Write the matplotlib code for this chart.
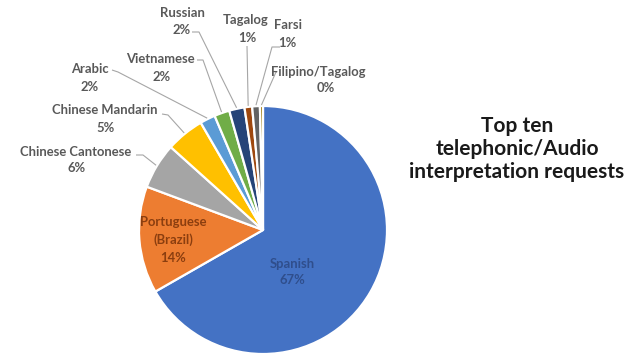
import numpy as np
import matplotlib
matplotlib.use("Agg")
import matplotlib.pyplot as plt

# Share of telephonic/audio interpretation requests by language (%)
languages = ["Spanish", "Portuguese\n(Brazil)", "Chinese Cantonese", "Chinese Mandarin",
             "Arabic", "Vietnamese", "Russian", "Tagalog", "Farsi", "Filipino/Tagalog"]
shares = [67, 14, 6, 5, 2, 2, 2, 1, 1, 0.4]
colors = ["#4472C4", "#ED7D31", "#A5A5A5", "#FFC000", "#5B9BD5",
          "#70AD47", "#264478", "#9E480E", "#636363", "#997300"]
title = "Top ten\ntelephonic/Audio\ninterpretation requests"

W, H = 626, 360
fig = plt.figure(figsize=(W / 100, H / 100), dpi=100)
ax = fig.add_axes([0, 0, 1, 1])

cx, cy, r = 263, H - 230, 124
wedges, _ = ax.pie(shares, colors=colors, startangle=90, counterclock=False,
                   center=(cx, cy), radius=r, frame=True,
                   wedgeprops=dict(edgecolor="white", linewidth=1.6))
ax.set_xlim(0, W)
ax.set_ylim(0, H)
ax.set_aspect("equal")
ax.axis("off")

label_font = dict(family=["Lato", "DejaVu Sans"], fontweight="bold", fontsize=9.4, color="#595959")

# Inside labels for the two biggest slices
ax.text(173, H - 240, f"Portuguese\n(Brazil)\n{round(shares[1])}%", ha="center", va="center",
        linespacing=1.55, **{**label_font, "color": "#8B3E0F"})
ax.text(292, H - 272, f"Spanish\n{round(shares[0])}%", ha="center", va="center",
        linespacing=1.5, **{**label_font, "color": "#2F4E8C"})

# Outside labels: (index, name centre, percent centre, elbow start, elbow end)
outside = [
    (2, (76, 152), (77, 168), (136, 155), (143, 155)),
    (3, (105, 110), (106, 128), (162, 114), (168, 115)),
    (4, (90, 69), (90, 87), (112, 70), (118, 72)),
    (5, (160, 59), (162, 77), (197, 60), (203, 60)),
    (6, (182, 13), (182, 30), (192, 32), (199, 32)),
    (7, (246, 20), (247, 38), (247, 46), (247, 46)),
    (8, (288, 25), (287, 43), (280, 47), (272, 47)),
    (9, (318, 72), (326, 88), (277, 72), (276, 72)),
]
for idx, npos, ppos, p0, p1 in outside:
    name = languages[idx]
    ax.text(npos[0], H - npos[1], name, ha="center", va="center", **label_font)
    ax.text(ppos[0], H - ppos[1], f"{round(shares[idx])}%", ha="center", va="center", **label_font)
    w = wedges[idx]
    mid = np.deg2rad((w.theta1 + w.theta2) / 2)
    ex, ey = cx + (r + 1) * np.cos(mid), cy + (r + 1) * np.sin(mid)
    ax.plot([p0[0], p1[0], ex], [H - p0[1], H - p1[1], ey],
            color="#A6A6A6", linewidth=0.8, solid_capstyle="butt")

ax.text(517, H - 149, title, ha="center", va="center", family=["Lato", "DejaVu Sans"],
        fontweight="bold", fontsize=15, color="#1A1A1A", linespacing=1.2)

fig.savefig("out.png", dpi=100, facecolor="white")
